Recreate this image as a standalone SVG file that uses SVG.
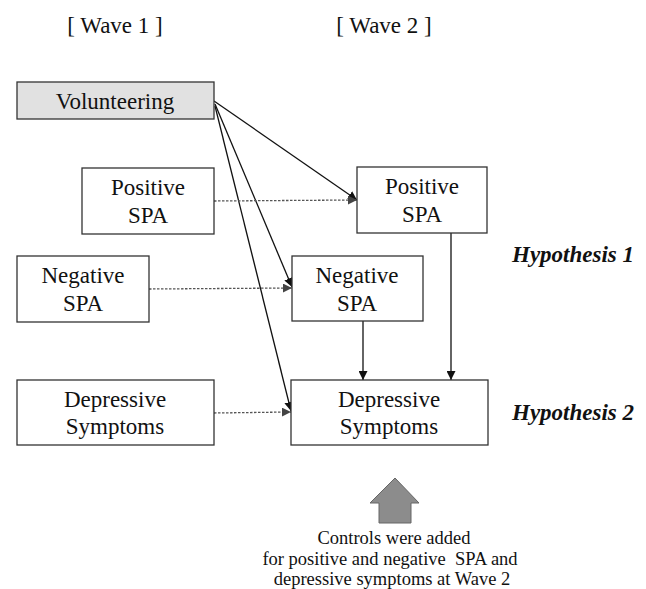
<svg xmlns="http://www.w3.org/2000/svg" width="646" height="589" viewBox="0 0 646 589">
<style>
.box{fill:#fff;stroke:#333;stroke-width:1.3}
.t{font-family:"Liberation Serif","Times New Roman",serif;font-size:23px;fill:#111;text-anchor:middle}
.h{font-family:"Liberation Serif","Times New Roman",serif;font-size:23px;font-weight:bold;font-style:italic;fill:#111}
.n{font-family:"Liberation Serif","Times New Roman",serif;font-size:18.5px;fill:#111;text-anchor:middle;white-space:pre}
.solid{stroke:#111;stroke-width:1.3;fill:none}
.dash{stroke:#555;stroke-width:1.3;stroke-dasharray:2.5 1.5;fill:none}
</style>
<defs>
<marker id="ah" viewBox="0 0 10 10" refX="10" refY="5" markerWidth="9" markerHeight="9" markerUnits="userSpaceOnUse" orient="auto">
<path d="M0,0 L10,5 L0,10 z" fill="#111"/>
</marker>
<marker id="ahg" viewBox="0 0 10 10" refX="10" refY="5" markerWidth="9" markerHeight="9" markerUnits="userSpaceOnUse" orient="auto">
<path d="M0,0 L10,5 L0,10 z" fill="#444"/>
</marker>
</defs>
<text class="t" x="115" y="33">[ Wave 1 ]</text>
<text class="t" x="384" y="33">[ Wave 2 ]</text>
<g id="connectors">
<line class="solid" x1="214" y1="101" x2="357" y2="200" marker-end="url(#ah)"/>
<line class="solid" x1="215" y1="104" x2="292" y2="287" marker-end="url(#ah)"/>
<line class="solid" x1="215" y1="106" x2="291" y2="411" marker-end="url(#ah)"/>
<line class="dash" x1="214" y1="201" x2="357" y2="200" marker-end="url(#ahg)"/>
<line class="dash" x1="149" y1="289" x2="292" y2="288" marker-end="url(#ahg)"/>
<line class="dash" x1="214" y1="413" x2="291" y2="412" marker-end="url(#ahg)"/>
<line class="solid" x1="363" y1="321" x2="363" y2="380" marker-end="url(#ah)"/>
<line class="solid" x1="451" y1="233" x2="451" y2="380" marker-end="url(#ah)"/>
</g>
<g id="volunteering">
<rect x="17" y="82" width="197" height="37" fill="#e1e1e1" stroke="#333" stroke-width="1.3"/>
<text class="t" x="115" y="109">Volunteering</text>
</g>
<g id="pos1">
<rect class="box" x="82" y="168" width="132" height="66"/>
<text class="t" x="148" y="195">Positive</text>
<text class="t" x="148" y="223">SPA</text>
</g>
<g id="neg1">
<rect class="box" x="17" y="256" width="132" height="66"/>
<text class="t" x="83" y="283">Negative</text>
<text class="t" x="83" y="311">SPA</text>
</g>
<g id="dep1">
<rect class="box" x="17" y="380" width="197" height="65"/>
<text class="t" x="115" y="407">Depressive</text>
<text class="t" x="115" y="434">Symptoms</text>
</g>
<g id="pos2">
<rect class="box" x="357" y="167" width="130" height="66"/>
<text class="t" x="422" y="194">Positive</text>
<text class="t" x="422" y="222">SPA</text>
</g>
<g id="neg2">
<rect class="box" x="292" y="256" width="131" height="65"/>
<text class="t" x="357" y="283">Negative</text>
<text class="t" x="357" y="311">SPA</text>
</g>
<g id="dep2">
<rect class="box" x="291" y="380" width="197" height="65"/>
<text class="t" x="389" y="407">Depressive</text>
<text class="t" x="389" y="434">Symptoms</text>
</g>
<text class="h" x="512" y="262">Hypothesis 1</text>
<text class="h" x="512" y="420">Hypothesis 2</text>
<g id="controls">
<path d="M395,478 L419,503 L411,503 L411,523 L379,523 L379,503 L370,503 Z" fill="#8c8c8c" stroke="#666" stroke-width="1"/>
<text class="n" x="394" y="544">Controls were added</text>
<text class="n" x="390" y="565" xml:space="preserve">for positive and negative  SPA and</text>
<text class="n" x="392" y="585">depressive symptoms at Wave 2</text>
</g>
</svg>
